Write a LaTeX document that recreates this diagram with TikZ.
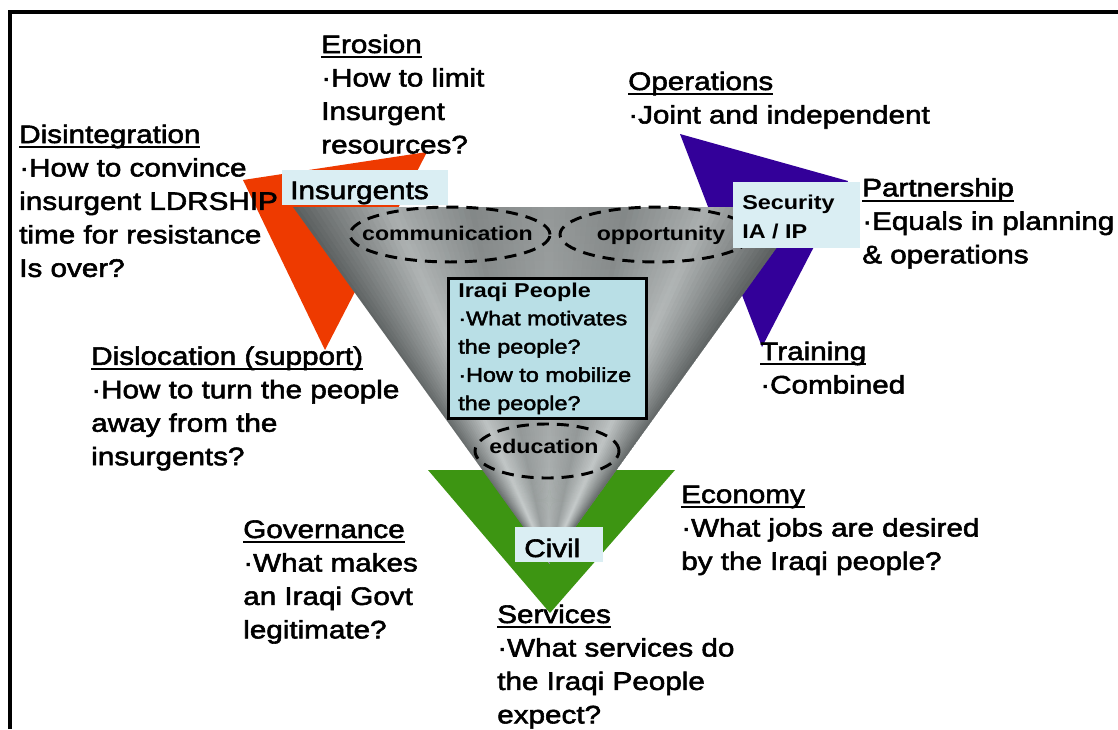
\documentclass[tikz,border=0pt]{standalone}
\usepackage{fontspec}
\setmainfont{Liberation Sans}[FakeStretch=1.17, UprightFeatures={FakeBold=2.2}]
\usetikzlibrary{fadings}
\definecolor{insred}{RGB}{238,58,0}
\definecolor{secblue}{RGB}{51,0,153}
\definecolor{civgreen}{RGB}{61,149,18}
\definecolor{boxcyan}{RGB}{218,238,243}
\definecolor{ipblue}{RGB}{185,223,230}
\newcommand\ulhd[1]{\setbox0=\hbox{#1}\rlap{\rule[-4pt]{\wd0}{1.4pt}}\box0}
\newcommand\txtblock[1]{\begin{tabular}[t]{@{}l@{}}#1\end{tabular}}
\begin{document}
\begin{tikzpicture}[x=0.75pt,y=-0.75pt,
  lbl/.style={anchor=base west, inner sep=0pt, font=\fontsize{19}{25.1}\selectfont},
  iplbl/.style={anchor=base west, inner sep=0pt, font=\fontsize{15}{21.2}\selectfont},
  seclbl/.style={anchor=base west, inner sep=0pt, font=\fontsize{15}{21.75}\selectfont\bfseries},
  elllbl/.style={anchor=base, inner sep=0pt, font=\fontsize{14.8}{18}\selectfont\bfseries},
  tagbox/.style={fill=boxcyan, draw=none, inner sep=0pt},
  dashell/.style={draw=black, line width=2.2pt, dash pattern=on 9pt off 6pt}]
\useasboundingbox (0,0) rectangle (1118,729);
\fill[white] (0,0) rectangle (1118,729);
% frame
\draw[line width=2.4pt] (10,729) -- (10,12) -- (1118,12);
% coloured triangles
\fill[insred] (243,180) -- (427,152) -- (325,350) -- cycle;
\fill[secblue] (680,134) -- (848,181) -- (762,347) -- cycle;
\fill[civgreen] (428,470) -- (675,470) -- (550,613) -- cycle;
% grey funnel with conic metallic shading
\coordinate (apex) at (549.5,563);
\begin{scope}
  \clip (293,207) -- (806,207) -- (apex) -- cycle;
  \foreach \i in {0,...,89}{
    \pgfmathsetmacro\ua{-1+2*\i/90}
    \pgfmathsetmacro\ub{-1+2*(\i+1)/90}
    \pgfmathsetmacro\am{abs((\ua+\ub)/2)}
    \pgfmathsetmacro\g{\am<0.3 ? 0.70-0.08*\am/0.3 : (\am<0.62 ? 0.62+0.18*(\am-0.3)/0.32 : 0.80-0.38*(\am-0.62)/0.38)}
    \pgfmathsetmacro\gb{min(1,\g+0.02)}
    \definecolor{fanc}{rgb}{\g,\gb,\gb}
    \filldraw[fill=fanc, draw=fanc, line width=0.4pt] (apex) -- (549.5+\ua*262-0.4,200) -- (549.5+\ub*262+0.4,200) -- cycle;
  }
  \fill[black, fill opacity=0.17, path fading=south] (293,207) -- (806,207) -- (apex) -- cycle;
\end{scope}
% dashed ellipses
\draw[dashell] (450,234.5) ellipse [x radius=75pt, y radius=20.6pt];
\draw[dashell] (656,234.5) ellipse [x radius=72pt, y radius=20.6pt];
\draw[dashell] (547,451) ellipse [x radius=54pt, y radius=20.25pt];
\node[elllbl] (comm) at (447.5,240) {communication};
\node[elllbl] (opp) at (661,240) {opportunity};
\node[elllbl] (edu) at (544,453) {education};
% boxes
\node[draw=black, line width=2.3pt, fill=ipblue, inner sep=0pt, minimum width=148.5pt, minimum height=105pt] (ipbox) at (547.5,348.5) {};
\node[iplbl] (iptxt) at (458,297) {\txtblock{\textbf{Iraqi People}\\·What motivates\\the people?\\·How to mobilize\\the people?}};
\node[tagbox, minimum width=124.5pt, minimum height=26.25pt] (insbox) at (365,187.5) {};
\node[lbl] (ins) at (290,199) {Insurgents};
\node[tagbox, minimum width=95.25pt, minimum height=49.5pt] (secbox) at (796.5,215) {};
\node[seclbl] (sec) at (742,209) {\txtblock{Security\\IA / IP}};
\node[tagbox, minimum width=66pt, minimum height=26.25pt] (civbox) at (559,544.5) {};
\node[lbl] (civ) at (524,557) {Civil};
% outer texts
\node[lbl] (ero) at (321,53) {\txtblock{\ulhd{Erosion}\\·How to limit\\Insurgent\\resources?}};
\node[lbl] (dis) at (19,143) {\txtblock{\ulhd{Disintegration}\\·How to convince\\insurgent LDRSHIP\\time for resistance\\Is over?}};
\node[lbl] (ops) at (628,90) {\txtblock{\ulhd{Operations}\\·Joint and independent}};
\node[lbl] (par) at (862,196.4) {\txtblock{\ulhd{Partnership}\\·Equals in planning\\\& operations}};
\node[lbl] (dsl) at (91,364.8) {\txtblock{\ulhd{Dislocation (support)}\\·How to turn the people\\away from the\\insurgents?}};
\node[lbl] (trn) at (760,360) {\txtblock{\ulhd{Training}\\·Combined}};
\node[lbl] (eco) at (681,503) {\txtblock{\ulhd{Economy}\\·What jobs are desired\\by the Iraqi people?}};
\node[lbl] (gov) at (243,538) {\txtblock{\ulhd{Governance}\\·What makes\\an Iraqi Govt\\legitimate?}};
\node[lbl] (srv) at (497,623) {\txtblock{\ulhd{Services}\\·What services do\\the Iraqi People\\expect?}};
\end{tikzpicture}
\end{document}
